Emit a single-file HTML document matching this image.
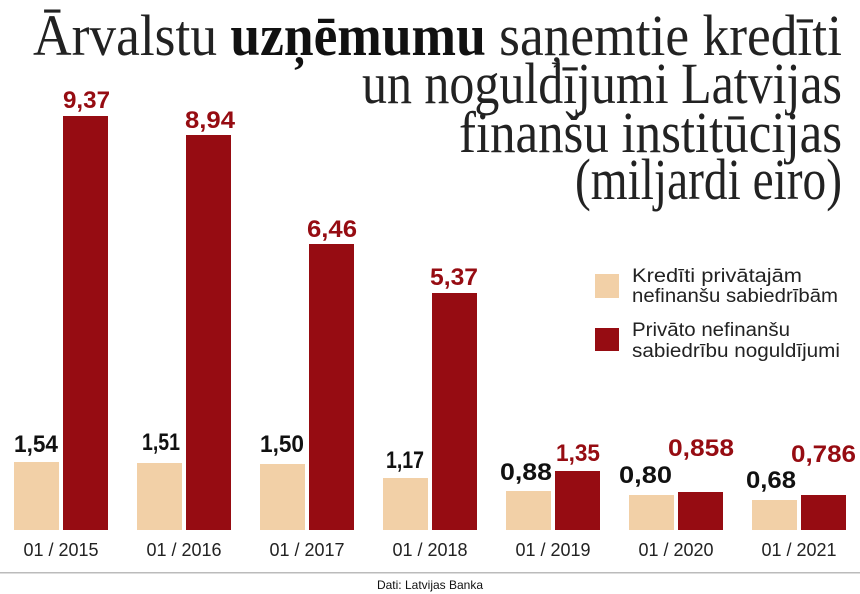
<!DOCTYPE html>
<html><head><meta charset="utf-8"><style>
html,body{margin:0;padding:0;background:#fff;}
svg{display:block;}
.t{font-family:"Liberation Serif",serif;font-size:58px;fill:#222;}
.v{font-family:"Liberation Sans",sans-serif;font-weight:bold;font-size:24px;}
.y{font-family:"Liberation Sans",sans-serif;font-size:18px;fill:#222;}
.l{font-family:"Liberation Sans",sans-serif;font-size:19px;fill:#222;}
</style></head><body>
<svg width="860" height="594" viewBox="0 0 860 594" xmlns="http://www.w3.org/2000/svg">
<rect width="860" height="594" fill="#fff"/>
<text class="t" x="33" y="55" textLength="809" lengthAdjust="spacingAndGlyphs">Ārvalstu <tspan font-weight="bold" fill="#111">uzņēmumu</tspan> saņemtie kredīti</text>
<text class="t" x="362" y="103" textLength="480" lengthAdjust="spacingAndGlyphs">un noguldījumi Latvijas</text>
<text class="t" x="459" y="152" textLength="383" lengthAdjust="spacingAndGlyphs">finanšu institūcijas</text>
<text class="t" x="575" y="199" textLength="267" lengthAdjust="spacingAndGlyphs">(miljardi eiro)</text>

<g fill="#f2d0a7">
<rect x="14" y="462" width="45" height="68"/>
<rect x="137" y="463" width="45" height="67"/>
<rect x="260" y="464" width="45" height="66"/>
<rect x="383" y="478" width="45" height="52"/>
<rect x="506" y="491" width="45" height="39"/>
<rect x="629" y="495" width="45" height="35"/>
<rect x="752" y="500" width="45" height="30"/>
</g>
<g fill="#960c12">
<rect x="63" y="116" width="45" height="414"/>
<rect x="186" y="135" width="45" height="395"/>
<rect x="309" y="244" width="45" height="286"/>
<rect x="432" y="293" width="45" height="237"/>
<rect x="555" y="471" width="45" height="59"/>
<rect x="678" y="492" width="45" height="38"/>
<rect x="801" y="495" width="45" height="35"/>
</g>

<g class="v" fill="#111">
<text x="14" y="452" textLength="44" lengthAdjust="spacingAndGlyphs">1,54</text>
<text x="142" y="450" textLength="38" lengthAdjust="spacingAndGlyphs">1,51</text>
<text x="260" y="452" textLength="44" lengthAdjust="spacingAndGlyphs">1,50</text>
<text x="386" y="468" textLength="38" lengthAdjust="spacingAndGlyphs">1,17</text>
<text x="500" y="480" textLength="52" lengthAdjust="spacingAndGlyphs">0,88</text>
<text x="619" y="483" textLength="53" lengthAdjust="spacingAndGlyphs">0,80</text>
<text x="746" y="488" textLength="50" lengthAdjust="spacingAndGlyphs">0,68</text>
</g>
<g class="v" fill="#960c12">
<text x="63" y="108" textLength="47" lengthAdjust="spacingAndGlyphs">9,37</text>
<text x="185" y="128" textLength="50" lengthAdjust="spacingAndGlyphs">8,94</text>
<text x="307" y="237" textLength="50" lengthAdjust="spacingAndGlyphs">6,46</text>
<text x="430" y="285" textLength="48" lengthAdjust="spacingAndGlyphs">5,37</text>
<text x="556" y="461" textLength="44" lengthAdjust="spacingAndGlyphs">1,35</text>
<text x="668" y="456" textLength="66" lengthAdjust="spacingAndGlyphs">0,858</text>
<text x="791" y="462" textLength="65" lengthAdjust="spacingAndGlyphs">0,786</text>
</g>

<g class="y" text-anchor="middle">
<text x="61" y="556">01 / 2015</text>
<text x="184" y="556">01 / 2016</text>
<text x="307" y="556">01 / 2017</text>
<text x="430" y="556">01 / 2018</text>
<text x="553" y="556">01 / 2019</text>
<text x="676" y="556">01 / 2020</text>
<text x="799" y="556">01 / 2021</text>
</g>

<rect x="595" y="274" width="24" height="24" fill="#f2d0a7"/>
<rect x="595" y="328" width="24" height="23" fill="#960c12"/>
<text class="l" x="632" y="282" textLength="170" lengthAdjust="spacingAndGlyphs">Kredīti privātajām</text>
<text class="l" x="632" y="302" textLength="206" lengthAdjust="spacingAndGlyphs">nefinanšu sabiedrībām</text>
<text class="l" x="632" y="336" textLength="158" lengthAdjust="spacingAndGlyphs">Privāto nefinanšu</text>
<text class="l" x="632" y="357" textLength="208" lengthAdjust="spacingAndGlyphs">sabiedrību noguldījumi</text>

<rect x="0" y="572" width="860" height="1.5" fill="#bbb"/>
<text x="430" y="589" text-anchor="middle" font-family="Liberation Sans, sans-serif" font-size="12" fill="#111">Dati: Latvijas Banka</text>
</svg>
</body></html>
